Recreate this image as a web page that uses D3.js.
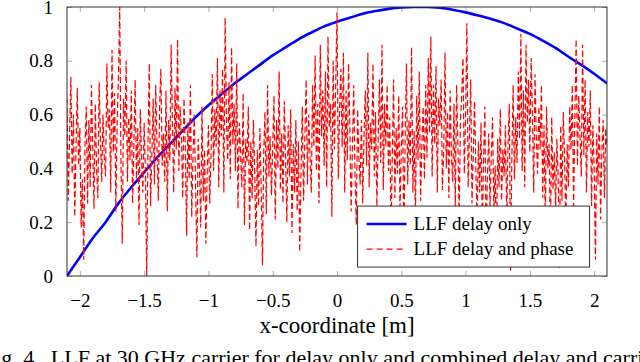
<!DOCTYPE html>
<html>
<head>
<meta charset="utf-8">
<script src="https://cdn.jsdelivr.net/npm/d3@7"></script>
<style>
body { margin: 0; background: #fff; }
</style>
</head>
<body>
<div id="chart"></div>
<script>
//////////////////////////////////////////////////////////////////////////////
// Data

// no serif face renders in the sandbox, so fall back on the Times-metric sans
var fontFamily = "'Liberation Serif', 'Liberation Sans', sans-serif";

// x-coordinate sampling [m]
var xStart = -2.1;
var xEnd = 2.1;

// LLF delay only, sampled every 0.1 m from -2.1 to 2.1
var delayOnly = [0, 0.07, 0.14, 0.20, 0.27, 0.33, 0.385, 0.44, 0.49, 0.54,
    0.59, 0.635, 0.675, 0.715, 0.75, 0.785, 0.82, 0.85, 0.88, 0.905,
    0.928, 0.945, 0.96, 0.975, 0.985, 0.993, 0.998, 1.0, 1.0, 0.997,
    0.99, 0.98, 0.968, 0.955, 0.94, 0.92, 0.9, 0.875, 0.848, 0.815,
    0.785, 0.752, 0.716];

// LLF delay and phase, in percent, sampled every 0.01 m from -2.1 to 2.1
var delayPhase = [
    66,28,52,74,38,60,22,47,70,41,
    55,18,36,6,49,63,27,58,33,71,
    48,25,64,40,29,72,51,35,60,44,
    37,79,55,62,31,84,46,68,24,57,
    74,100,41,12,66,52,80,35,59,43,
    69,27,48,73,36,55,19,62,44,31,
    57,38,0,50,79,26,45,66,34,71,
    49,28,62,77,41,53,35,69,24,58,
    43,86,57,31,70,47,88,39,63,52,
    29,66,48,15,57,36,71,22,45,60,
    33,7,51,40,18,63,28,47,12,38,
    56,27,44,75,39,62,48,81,33,69,
    52,77,31,96,58,43,72,36,85,49,
    64,39,79,25,57,46,33,68,19,51,
    42,63,17,50,29,58,38,11,47,26,
    55,34,4,46,61,23,71,37,52,30,
    48,67,21,58,40,76,32,53,27,65,
    44,20,56,37,62,16,49,31,58,24,
    50,9,38,63,28,52,73,34,60,45,
    31,71,48,82,39,64,27,86,52,69,
    41,76,33,89,55,64,22,80,47,71,
    98,36,62,77,48,83,31,69,43,79,
    55,24,48,71,38,19,62,44,34,58,
    27,52,69,41,83,33,57,47,79,37,
    61,26,50,73,42,86,32,64,48,71,
    39,59,16,44,73,29,55,38,67,24,
    47,63,13,52,79,34,58,41,85,31,
    54,22,67,43,76,28,49,63,36,71,
    44,81,53,89,37,71,49,78,31,66,
    56,73,32,47,83,40,61,29,69,45,
    35,64,26,71,50,21,58,67,81,38,
    59,94,33,52,73,27,46,65,39,21,
    50,31,57,16,43,63,11,38,53,26,
    45,59,23,41,9,51,33,62,28,47,
    37,56,21,49,64,2,44,71,36,59,
    42,76,51,90,39,69,33,86,57,73,
    46,81,60,31,75,52,38,63,47,71,
    29,56,19,63,40,49,13,59,32,46,
    24,51,37,3,56,28,61,44,18,49,
    33,63,47,71,26,59,88,41,67,52,
    37,86,45,73,31,61,48,69,26,56,
    41,6,53,34,63,21,46,58,29,55,
    48];

var xTicks = [-2, -1.5, -1, -0.5, 0, 0.5, 1, 1.5, 2];
var yTicks = [0, 0.2, 0.4, 0.6, 0.8, 1];

var seriesNames = ["LLF delay only", "LLF delay and phase"];
var xLabel = "x-coordinate [m]";
var caption = "Fig. 4.\u00a0 LLF at 30 GHz carrier for delay only and combined delay and carrier phase.";

//////////////////////////////////////////////////////////////////////////////
// Layout

var width = 640, height = 362;
var margin = {left: 67, top: 7, right: 33, bottom: 86};
var plotW = width - margin.left - margin.right;
var plotH = height - margin.top - margin.bottom;

var xScale = d3.scaleLinear().domain([xStart, xEnd]).range([0, plotW]);
var yScale = d3.scaleLinear().domain([0, 1]).range([plotH, 0]);

var blueData = delayOnly.map(function(v, i) { return {x: xStart + i * 0.1, y: v}; });
var redData = delayPhase.map(function(v, i) { return {x: xStart + i * 0.01, y: v / 100}; });

var svg = d3.select("#chart")
    .append("svg")
    .attr("width", width)
    .attr("height", height)
    .attr("font-family", fontFamily);

var g = svg.append("g")
    .attr("transform", "translate(" + margin.left + "," + margin.top + ")");

g.append("clipPath")
    .attr("id", "clip")
    .append("rect")
    .attr("width", plotW)
    .attr("height", plotH);

// inward grey ticks on all four sides
function tickStyle(sel) {
    sel.attr("font-family", fontFamily).attr("font-size", 19);
    sel.select(".domain").remove();
    sel.selectAll(".tick line").attr("stroke", "#999").attr("stroke-width", 0.8);
}

g.append("g")
    .attr("transform", "translate(0," + plotH + ")")
    .call(d3.axisBottom(xScale).tickValues(xTicks).tickSizeInner(-5).tickPadding(18).tickFormat(d3.format("")))
    .call(tickStyle);

g.append("g")
    .call(d3.axisTop(xScale).tickValues(xTicks).tickSizeInner(-5).tickFormat(""))
    .call(tickStyle);

g.append("g")
    .call(d3.axisLeft(yScale).tickValues(yTicks).tickSizeInner(-5).tickPadding(14).tickFormat(d3.format("")))
    .call(tickStyle);

g.append("g")
    .attr("transform", "translate(" + plotW + ",0)")
    .call(d3.axisRight(yScale).tickValues(yTicks).tickSizeInner(-5).tickFormat(""))
    .call(tickStyle);

var line = d3.line()
    .x(function(d) { return xScale(d.x); })
    .y(function(d) { return yScale(d.y); });

g.append("path")
    .datum(blueData)
    .attr("clip-path", "url(#clip)")
    .attr("fill", "none")
    .attr("stroke", "#0000ff")
    .attr("stroke-width", 2.6)
    .attr("d", line.curve(d3.curveMonotoneX));

g.append("path")
    .datum(redData)
    .attr("clip-path", "url(#clip)")
    .attr("fill", "none")
    .attr("stroke", "#ff0000")
    .attr("stroke-width", 1.2)
    .attr("stroke-dasharray", "6,3")
    .attr("d", line.curve(d3.curveLinear));

// frame
g.append("rect")
    .attr("width", plotW)
    .attr("height", plotH)
    .attr("fill", "none")
    .attr("stroke", "#333")
    .attr("stroke-width", 1);

// legend
var legend = g.append("g")
    .attr("transform", "translate(" + (xScale(0.16)) + "," + (yScale(0.26)) + ")");

legend.append("rect")
    .attr("width", 232)
    .attr("height", 61)
    .attr("fill", "#fff")
    .attr("stroke", "#333")
    .attr("stroke-width", 1);

var legendItems = legend.selectAll(".item")
    .data(seriesNames)
    .enter()
    .append("g")
    .attr("class", "item")
    .attr("transform", function(d, i) { return "translate(0," + (18 + i * 25) + ")"; });

legendItems.append("line")
    .attr("x1", 9)
    .attr("x2", 49)
    .attr("stroke", function(d, i) { return i === 0 ? "#0000ff" : "#ff0000"; })
    .attr("stroke-width", function(d, i) { return i === 0 ? 2.6 : 1.2; })
    .attr("stroke-dasharray", function(d, i) { return i === 0 ? null : "6,4"; });

legendItems.append("text")
    .attr("x", 56)
    .attr("y", 6)
    .attr("font-size", 19)
    .text(function(d) { return d; });

// axis label
svg.append("text")
    .attr("x", margin.left + plotW / 2)
    .attr("y", 333)
    .attr("text-anchor", "middle")
    .attr("font-size", 23)
    .text(xLabel);

// caption, cut at the picture edges as in the source figure
svg.append("text")
    .attr("x", -17)
    .attr("y", 365)
    .attr("font-size", 22)
    .text(caption);
</script>
</body>
</html>
